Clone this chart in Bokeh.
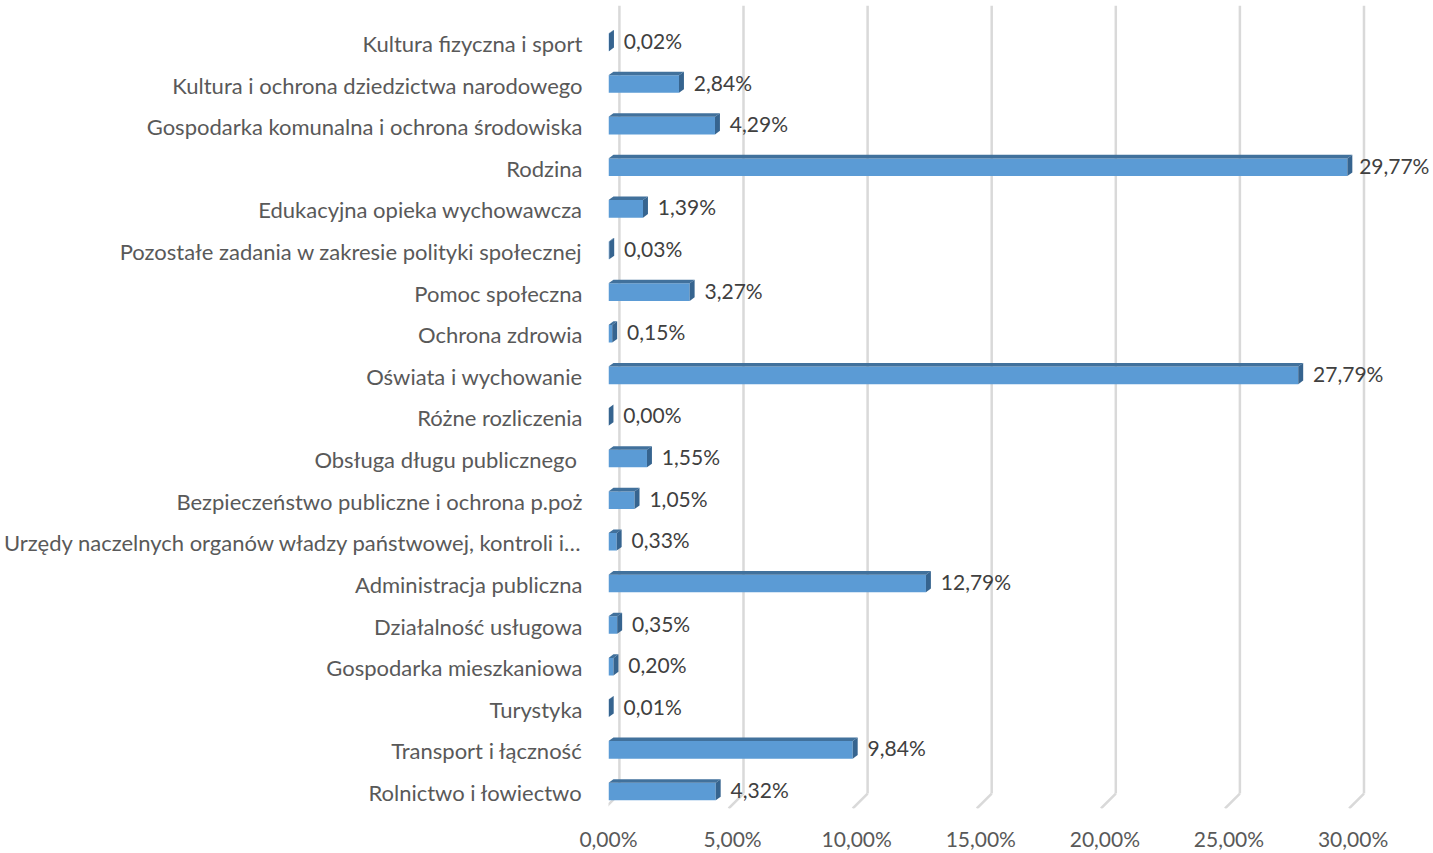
from bokeh.plotting import figure
from bokeh.models import Range1d, FixedTicker, ColumnDataSource, LinearAxis
from bokeh.embed import file_html
from bokeh.resources import INLINE
from bokeh.core.properties import value

categories = [
    "Kultura fizyczna i sport",
    "Kultura i ochrona dziedzictwa narodowego",
    "Gospodarka komunalna i ochrona środowiska",
    "Rodzina",
    "Edukacyjna opieka wychowawcza",
    "Pozostałe zadania w zakresie polityki społecznej",
    "Pomoc społeczna",
    "Ochrona zdrowia",
    "Oświata i wychowanie",
    "Różne rozliczenia",
    "Obsługa długu  publicznego",
    "Bezpieczeństwo publiczne i ochrona p.poż",
    "Urzędy naczelnych organów władzy państwowej, kontroli i…",
    "Administracja publiczna",
    "Działalność usługowa",
    "Gospodarka mieszkaniowa",
    "Turystyka",
    "Transport i łączność",
    "Rolnictwo i łowiectwo",
]
values = [0.02, 2.84, 4.29, 29.77, 1.39, 0.03, 3.27, 0.15, 27.79, 0.00,
          1.55, 1.05, 0.33, 12.79, 0.35, 0.20, 0.01, 9.84, 4.32]
x_ticks = [0, 5, 10, 15, 20, 25, 30]
x_tick_labels = ["0,00%", "5,00%", "10,00%", "15,00%", "20,00%", "25,00%", "30,00%"]

FONT = "Lato"
TXT = "#595959"

n = len(categories)
ypos = [n - 1 - i for i in range(n)]  # top category highest

W, H = 1433, 853
px_per_x = 25.03
px_per_y = 41.67
frame_left = 601
min_right = 0
frame_top = 5
frame_bottom = 809
row0_px = 788
x_end = (W - frame_left - min_right) / px_per_x
y_top = (row0_px - frame_top) / px_per_y
y_bot = -(frame_bottom - row0_px) / px_per_y

p = figure(width=W, height=H, output_backend="svg", toolbar_location=None,
           x_range=Range1d(0, x_end), y_range=Range1d(y_bot, y_top),
           y_axis_location=None,
           min_border_left=frame_left, min_border_right=min_right,
           min_border_top=frame_top, min_border_bottom=H - frame_bottom)
p.title = None
p.outline_line_color = None
p.xgrid.visible = False
p.ygrid.visible = False
p.background_fill_color = "white"
p.border_fill_color = "white"

# 3D-ish gridlines (back wall + floor slant)
gdx_back = 11 / px_per_x
gdx_front = -4 / px_per_x
g_floor_back = -6 / px_per_y
p.segment(x0=[t + gdx_back for t in x_ticks], y0=[y_top] * len(x_ticks),
          x1=[t + gdx_back for t in x_ticks], y1=[g_floor_back] * len(x_ticks),
          line_color="#D9D9D9", line_width=2.5)
p.segment(x0=[t + gdx_back for t in x_ticks], y0=[g_floor_back] * len(x_ticks),
          x1=[t + gdx_front for t in x_ticks], y1=[y_bot] * len(x_ticks),
          line_color="#D9D9D9", line_width=2.5)

# bars
shift = 4 / px_per_y
half = 8.8 / px_per_y
dxu = 5 / px_per_x
dyu = 3.6 / px_per_y
bottoms = [y - shift - half for y in ypos]
tops = [y - shift + half for y in ypos]
p.quad(left=[0] * n, right=values, bottom=bottoms, top=tops,
       fill_color="#5B9BD5", line_color=None)
top_xs = [[0, v, v + dxu, dxu] for v in values]
top_ys = [[t, t, t + dyu, t + dyu] for t in tops]
p.patches(top_xs, top_ys, fill_color="#41719C", line_color=None)
side_xs = [[v, v, v + dxu, v + dxu] for v in values]
side_ys = [[b, t, t + dyu, b + dyu] for b, t in zip(bottoms, tops)]
p.patches(side_xs, side_ys, fill_color="#36648F", line_color=None)

# value labels
labels = [f"{v:.2f}%".replace(".", ",") for v in values]
label_gap = 15 / px_per_x
label_limit = (W - 75 - frame_left) / px_per_x
label_x = [min(v + label_gap, label_limit) for v in values]
src = ColumnDataSource(dict(x=label_x, y=[y - shift + 2 / px_per_y for y in ypos], t=labels))
p.text(x="x", y="y", text="t", source=src,
       text_font=value(FONT), text_font_size="21px", text_color="#404040",
       text_baseline="middle", text_align="left")

# category axis on a slightly shifted range (label vertical placement)
lab_shift = 5 / px_per_y
p.extra_y_ranges = {"lab": Range1d(y_bot + lab_shift, y_top + lab_shift)}
yax = LinearAxis(y_range_name="lab", ticker=FixedTicker(ticks=ypos),
                 major_label_overrides={y: c for y, c in zip(ypos, categories)})
p.add_layout(yax, "left")

# x axis
p.xaxis.ticker = FixedTicker(ticks=x_ticks)
p.xaxis.major_label_overrides = {t: l for t, l in zip(x_ticks, x_tick_labels)}
for ax in (p.xaxis[0], yax):
    ax.axis_line_color = None
    ax.major_tick_line_color = None
    ax.minor_tick_line_color = None
    ax.major_tick_out = 0
    ax.major_tick_in = 0
    ax.minor_tick_out = 0
    ax.minor_tick_in = 0
    ax.major_label_text_font = FONT
    ax.major_label_text_color = TXT
p.xaxis.major_label_text_font_size = "21px"
yax.major_label_text_font_size = "22px"
p.xaxis.major_label_standoff = 17
yax.major_label_standoff = 26

open("out.html", "w").write(file_html(p, INLINE))
